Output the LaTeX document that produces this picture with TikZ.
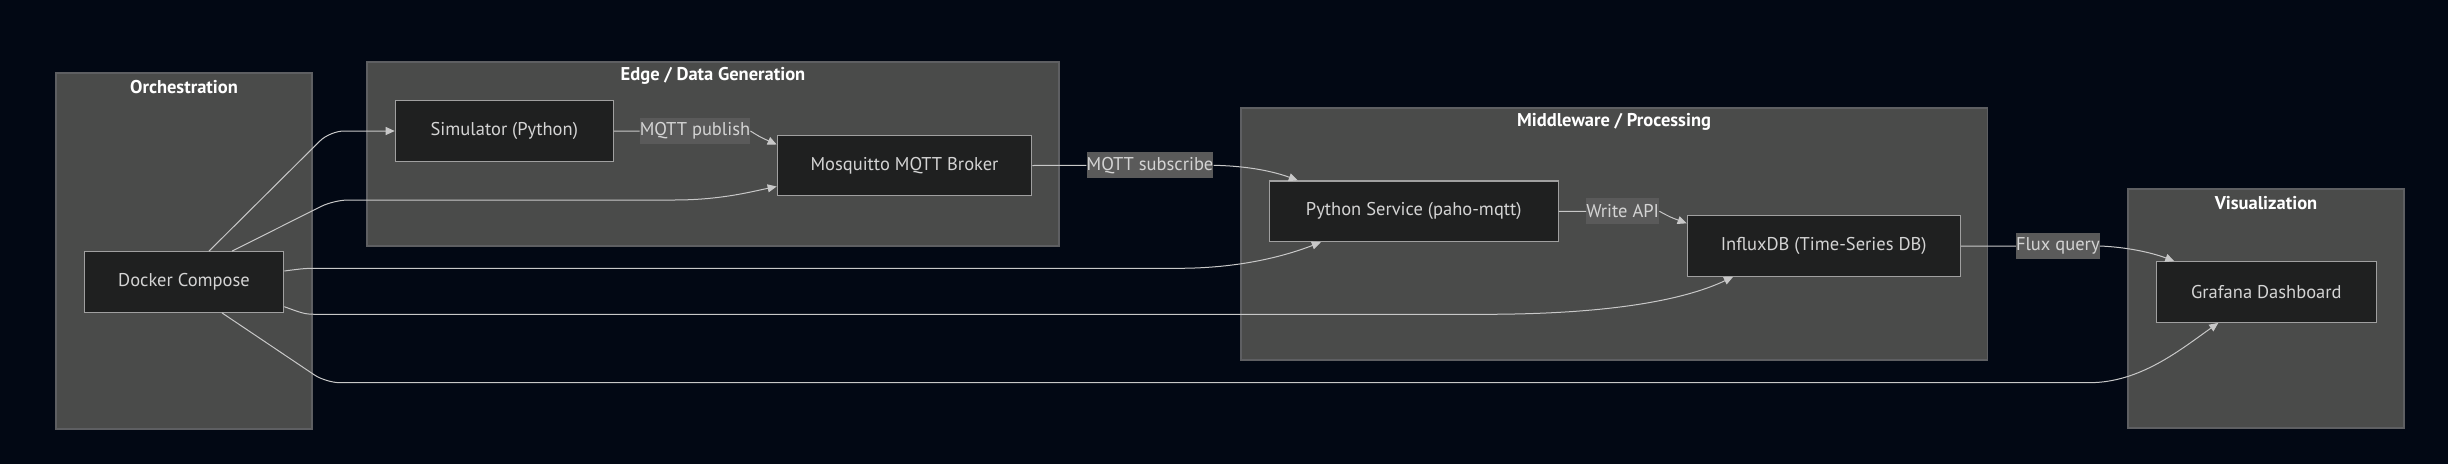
\documentclass[tikz,border=0pt]{standalone}
\usepackage{fontspec}
\setmainfont{PT Sans}
\usetikzlibrary{arrows.meta}
\definecolor{bgnavy}{HTML}{020814}
\definecolor{clfill}{HTML}{4A4B4A}
\definecolor{clline}{HTML}{5E5F62}
\definecolor{boxfill}{HTML}{1F2020}
\definecolor{boxline}{HTML}{A0A0A0}
\definecolor{lblfill}{HTML}{5A5A5A}
\definecolor{txt}{HTML}{D4D4D4}
\definecolor{wire}{HTML}{C8C8C8}
\begin{document}
\begin{tikzpicture}[x=1pt,y=-1pt]
    \tikzstyle{every node}+=[inner sep=0pt, font=\fontsize{18.5}{22}\selectfont]
    \tikzstyle{box}=[draw=boxline, fill=boxfill, text=txt, line width=1.2pt]
    \tikzstyle{lbl}=[fill=lblfill, text=txt, minimum height=26pt]
    \tikzstyle{title}=[text=white, font=\fontsize{18.5}{22}\selectfont\bfseries]
    \tikzstyle{cluster}=[draw=clline, fill=clfill, line width=1.2pt]
    \tikzstyle{link}=[draw=wire, line width=1pt, rounded corners=14pt]
    \tikzstyle{flow}=[link, -{Triangle[length=9pt,width=8pt]}]
    \fill [bgnavy] (0,0) rectangle (2448,464);
    \useasboundingbox (0,0) rectangle (2448,464);
    \draw [cluster] (56,73) rectangle (312,429);
    \draw [cluster] (367,62) rectangle (1059,246);
    \draw [cluster] (1241,108) rectangle (1987.5,360);
    \draw [cluster] (2128,189) rectangle (2404,428);
    \node [title] (torch) at (184,87) {Orchestration};
    \node [title] (tedge) at (713,76) {Edge / Data Generation};
    \node [title] (tmid) at (1614,122) {Middleware / Processing};
    \node [title] (tvis) at (2266,203.5) {Visualization};
    \node [box, minimum width=199.5pt, minimum height=60.6pt] (dock) at (184,282) {Docker Compose};
    \node [box, minimum width=218pt, minimum height=60.3pt] (sim) at (504.3,131) {Simulator (Python)};
    \node [box, minimum width=254.5pt, minimum height=60.4pt] (mqtt) at (904.5,165.5) {Mosquitto MQTT Broker};
    \node [box, minimum width=288.8pt, minimum height=60.7pt] (py) at (1413.8,211.3) {Python Service (paho-mqtt)};
    \node [box, minimum width=273pt, minimum height=60.6pt] (influx) at (1823.7,246) {InfluxDB (Time-Series DB)};
    \node [box, minimum width=220.2pt, minimum height=60.6pt] (graf) at (2266.3,292) {Grafana Dashboard};
    \node [lbl, minimum width=108pt] (publ) at (695,131) {MQTT publish};
    \node [lbl, minimum width=125pt] (subs) at (1150,165.3) {MQTT subscribe};
    \node [lbl, minimum width=73pt] (wapi) at (1622.7,211.3) {Write API};
    \node [lbl, minimum width=83.6pt] (fluxq) at (2057.8,246) {Flux query};
    \draw [flow] ([xshift=25pt]dock.north) -- (330,131) -- (sim.west);
    \draw [flow] ([xshift=48pt]dock.north) -- (334,200) -- (660,200) [sharp corners] .. controls (720,200) and (750,192) .. ([yshift=-21pt]mqtt.west);
    \draw [flow] (sim.east) -- (publ.west) (publ.east) .. controls (760,137) .. ([yshift=21pt]mqtt.west);
    \draw [flow] (mqtt.east) -- (subs.west) (subs.east) .. controls (1250,166) and (1275,172) .. ([xshift=-116pt]py.north);
    \draw [flow] ([yshift=11pt]dock.east) .. controls (305,268.3) .. (334,268.3) -- (1164,268.3) .. controls (1240,268.3) and (1285,256) .. ([xshift=-93pt]py.south);
    \draw [flow] ([yshift=-24.7pt]dock.east) .. controls (305,314.3) .. (334,314.3) -- (1470,314.3) .. controls (1600,314.3) and (1680,302) .. ([xshift=-90.7pt]influx.south);
    \draw [flow] (py.east) -- (wapi.west) (wapi.east) .. controls (1670,217) .. ([yshift=22.7pt]influx.west);
    \draw [flow] (influx.east) -- (fluxq.west) (fluxq.east) .. controls (2125,247) and (2150,252) .. ([xshift=-92pt]graf.north);
    \draw [flow] ([xshift=38pt]dock.south) -- (326,382.7) -- (2075,382.7) [sharp corners] .. controls (2140,382.7) and (2180,350) .. ([xshift=-48pt]graf.south);
\end{tikzpicture}
\end{document}
